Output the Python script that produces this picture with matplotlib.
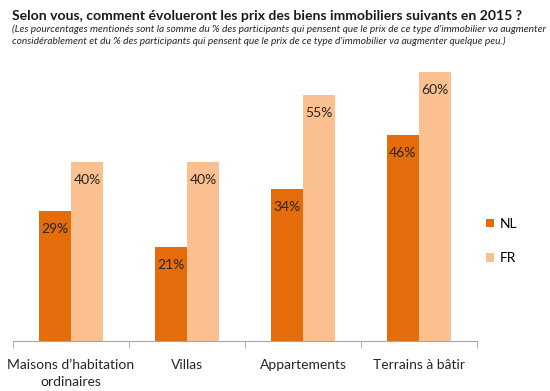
import matplotlib.pyplot as plt
import numpy as np

categories = ["Maisons d\u2019habitation\nordinaires", "Villas", "Appartements", "Terrains \u00e0 b\u00e2tir"]
nl_values = [29, 21, 34, 46]
fr_values = [40, 40, 55, 60]
series_names = ["NL", "FR"]

NL_COLOR = "#E46C0A"
FR_COLOR = "#FAC090"

plt.rcParams['font.family'] = ['Lato', 'DejaVu Sans']

fig = plt.figure(figsize=(5.5, 3.91), dpi=100)
ax = fig.add_axes([13 / 550, 1 - 341 / 391, (477 - 13) / 550, (341 - 50) / 391])

x = np.arange(len(categories))
w = 0.28
bars_nl = ax.bar(x - w / 2, nl_values, w, color=NL_COLOR, label=series_names[0])
bars_fr = ax.bar(x + w / 2, fr_values, w, color=FR_COLOR, label=series_names[1])

# value labels just under the top of each bar
for bars, vals in ((bars_nl, nl_values), (bars_fr, fr_values)):
    for b, v in zip(bars, vals):
        ax.annotate(f"{v}%", (b.get_x() + b.get_width() / 2, v), xytext=(0, -13),
                    textcoords="offset points", ha="center", va="center",
                    fontsize=10, color="#262626")

ax.set_xlim(-0.5, len(categories) - 0.5)
ax.set_ylim(0, 65)
ax.set_yticks([])
for s in ("top", "right", "left"):
    ax.spines[s].set_visible(False)
ax.spines["bottom"].set_color("#A6A6A6")

ax.set_xticks(x)
ax.set_xticklabels(categories, fontsize=10, color="#262626", linespacing=1.5)
ax.tick_params(axis="x", which="major", length=0, pad=13)
ax.set_xticks(np.arange(-0.5, len(categories)), minor=True)
ax.tick_params(axis="x", which="minor", length=5, color="#A6A6A6", direction="out")

leg = fig.legend(handles=[bars_nl, bars_fr], loc="center left",
                 bbox_to_anchor=(473 / 550, 1 - 241 / 391), frameon=False,
                 fontsize=10, handlelength=0.6, handleheight=0.6,
                 labelspacing=1.6, handletextpad=0.4)

title = fig.text(12 / 550, 1 - 16 / 391,
                 "Selon vous, comment \u00e9volueront les prix des biens immobiliers suivants en 2015 ?",
                 fontsize=12, fontweight="bold", ha="left", va="center", color="#1a1a1a")
sub = fig.text(12 / 550, 1 - 35 / 391,
               "(Les pourcentages mention\u00e9s sont la somme du % des participants qui pensent que le prix de ce type d'immobilier va augmenter\n"
               "consid\u00e9rablement et du % des participants qui pensent que le prix de ce type d'immobilier va augmenter quelque peu.)",
               fontsize=7, fontstyle="italic", ha="left", va="center", color="#262626", linespacing=1.35)

# shrink header texts so they span the same width as in the reference
renderer = fig.canvas.get_renderer()
for t, target in ((title, 506), (sub, 535)):
    width = t.get_window_extent(renderer).width
    t.set_fontsize(t.get_fontsize() * target / width)

fig.savefig("out.png", dpi=100)
